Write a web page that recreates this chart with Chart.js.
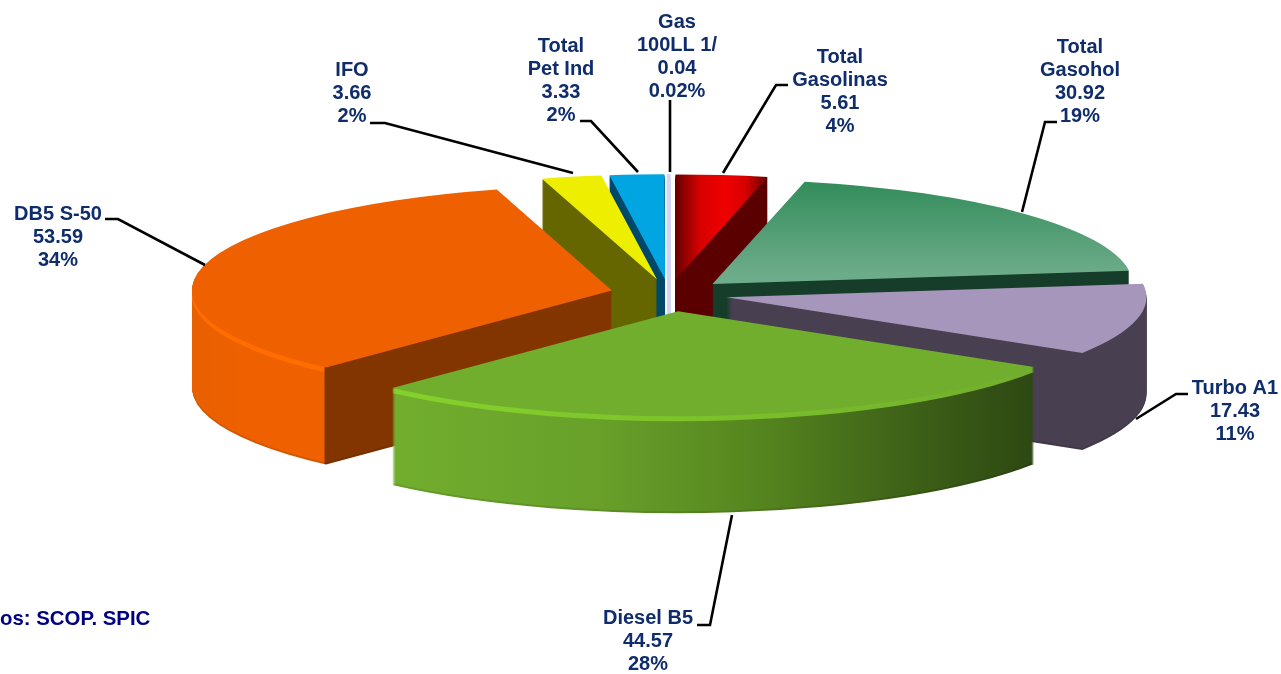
<!DOCTYPE html>
<html><head><meta charset="utf-8">
<style>html,body{margin:0;padding:0;background:#fff;overflow:hidden}canvas{display:block}</style>
<script src="https://cdn.jsdelivr.net/npm/chart.js@4"></script>
</head><body><canvas id="c" width="1281" height="674"></canvas>
<script>
// ---- data ----
const categories = ['Total Gasolinas','Total Gasohol','Turbo A1','Diesel B5','DB5 S-50','IFO','Total Pet Ind','Gas 100LL 1/'];
const values = [5.61,30.92,17.43,44.57,53.59,3.66,3.33,0.04];
const percents = ['4%','19%','11%','28%','34%','2%','2%','0.02%'];
const valueText = ['5.61','30.92','17.43','44.57','53.59','3.66','3.33','0.04'];
const labelNames = [['Total','Gasolinas'],['Total','Gasohol'],['Turbo A1'],['Diesel B5'],['DB5 S-50'],['IFO'],['Total','Pet Ind'],['Gas','100LL 1/']];
const sourceNote = 'os: SCOP. SPIC';

// ---- styles and projection ----
const CX=669, CY=294, RX=420, RY=105, DEPTH=97;
const order=[7,6,5,0,1,2,4,3];
const explode=[0.14,0.14,0.14,0.165,0.14,0.14,0.14,0.14];
const topFill=[
 {x:[[677,'#6e0000'],[700,'#d80000'],[725,'#f00000'],[745,'#d80000'],[767,'#6e0000']]},
 {y:[[181,'#338c5a'],[275,'#6dac8a']]},
 {c:'#a696bb'},{c:'#72ae2e'},{c:'#ef6000'},{c:'#eeee00'},{c:'#00a5e1'},{c:'#d4d4f4'}];
const wallFill=[
 [[0,'#5a0000'],[1281,'#5a0000']],
 [[0,'#153d2a'],[1281,'#153d2a']],
 [[0,'#483f50'],[1281,'#483f50']],
 [[388,'#72ae2e'],[600,'#68a02a'],[760,'#55851f'],[900,'#3f6318'],[1030,'#2e4913']],
 [[188,'#e86000'],[240,'#ee6000'],[324,'#ee6000'],[325,'#833500'],[1281,'#833500']],
 [[0,'#666600'],[1281,'#666600']],
 [[0,'#00486a'],[1281,'#00486a']],
 [[0,'#d4d4f4'],[1281,'#d4d4f4']]];
const bevel=[null,null,null,
 [[388,'#86d22c'],[700,'#7cc22a'],[1030,'#72ae2e']],
 [[188,'#ff6c00'],[324,'#ff6c00'],[325,'#833500'],[1281,'#833500']],
 null,null,null];
const labelPos=[[840,57],[1080,47],[1235,388],[648,618],[58,214],[352,70],[561,46],[677,22]];
const leaders=[
 [[723,173],[776,85],[788,85]],
 [[1022,212],[1045,122],[1057,122]],
 [[1136,419],[1176,394],[1188,394]],
 [[732,515],[710,625],[697,625]],
 [[205,265],[118,219],[105,219]],
 [[573,173],[385,123],[370,123]],
 [[638,172],[591,121],[580,121]],
 [[670,172],[670,100]]];

function stopsGrad(ctx,a0,a1,b0,b1,stops){
  const lo=stops[0][0], hi=stops[stops.length-1][0];
  const g=ctx.createLinearGradient(a0(lo),a1(lo),b0(hi),b1(hi));
  stops.forEach(s=>g.addColorStop((s[0]-lo)/(hi-lo),s[1]));
  return g;
}
const pie3d={
  id:'pie3d',
  beforeDatasetDraw(chart){
    const ctx=chart.ctx, arcs=chart.getDatasetMeta(0).data;
    const R=arcs[0].outerRadius, kx=RX/R, ky=RY/R;
    order.forEach(idx=>{
      const arc=arcs[idx], opt=arc.options;
      const mid=(arc.startAngle+arc.endAngle)/2;
      const ex=Math.cos(mid)*explode[idx]*R, ey=Math.sin(mid)*explode[idx]*R;
      const ux=X=>arc.x-ex+(X-CX)/kx, uy=Y=>arc.y-ey+(Y-CY)/ky;
      const hor=st=>stopsGrad(ctx,ux,()=>0,ux,()=>0,st);
      const ver=st=>stopsGrad(ctx,()=>0,uy,()=>0,uy,st);
      const paint=(dy,fill,filter)=>{
        ctx.save();
        if(filter) ctx.filter=filter;
        ctx.translate(CX,CY+dy); ctx.scale(kx,ky); ctx.translate(ex-arc.x,ey-arc.y);
        arc.options=Object.assign({},opt,{backgroundColor:fill,borderColor:opt.borderWidth?fill:opt.borderColor});
        arc.draw(ctx);
        arc.options=opt;
        ctx.restore();
      };
      const wall=hor(wallFill[idx]);
      for(let i=DEPTH;i>=1;i--) paint(i,wall,i>DEPTH-2?'brightness(0.9)':null);
      if(bevel[idx]){const b=hor(bevel[idx]);for(let i=5;i>=1;i--) paint(i,b);}
      const t=topFill[idx];
      paint(0,t.x?hor(t.x):t.y?ver(t.y):t.c);
    });
    return false;
  },
  afterDatasetsDraw(chart){
    const ctx=chart.ctx;
    ctx.save();
    ctx.strokeStyle='#000'; ctx.lineWidth=2.6; ctx.lineJoin='miter';
    leaders.forEach(l=>{ctx.beginPath();l.forEach((p,i)=>i?ctx.lineTo(p[0],p[1]):ctx.moveTo(p[0],p[1]));ctx.stroke();});
    ctx.font='bold 20px "Liberation Sans", Arial, sans-serif';
    ctx.fillStyle='#0f2c6b'; ctx.textAlign='center'; ctx.textBaseline='middle';
    categories.forEach((c,i)=>{
      const lines=[...labelNames[i],valueText[i],percents[i]];
      lines.forEach((s,j)=>ctx.fillText(s,labelPos[i][0],labelPos[i][1]+j*23));
    });
    ctx.textAlign='left'; ctx.fillStyle='#000080';
    ctx.font='bold 20.4px "Liberation Sans", Arial, sans-serif';
    ctx.fillText(sourceNote,0,619);
    ctx.restore();
  }
};
new Chart(document.getElementById('c'),{
  type:'pie',
  data:{labels:categories,datasets:[{data:values,backgroundColor:'#ccc',borderWidth:[0,0,0,0,0,0,0,2.2],borderColor:'rgba(0,0,0,0)',offset:0}]},
  options:{responsive:false,animation:false,rotation:0,layout:{padding:0},
    plugins:{legend:{display:false},tooltip:{enabled:false},title:{display:false}}},
  plugins:[pie3d]
});
</script></body></html>
